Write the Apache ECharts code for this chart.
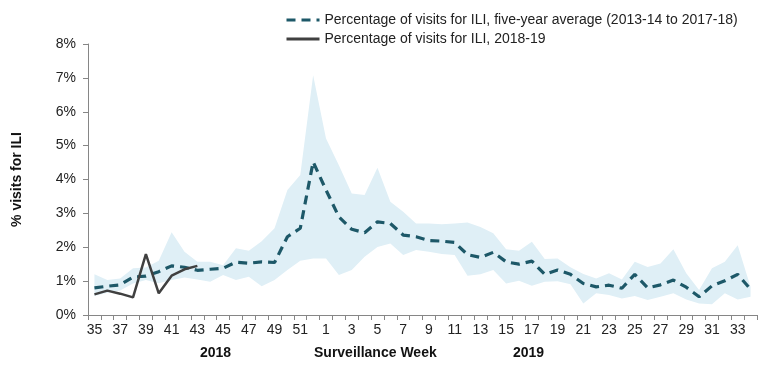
<!DOCTYPE html>
<html>
<head>
<meta charset="utf-8">
<script src="https://cdn.jsdelivr.net/npm/echarts@6/dist/echarts.min.js"></script>
<style>html,body{margin:0;padding:0;background:#fff}#c{width:777px;height:368px}</style>
</head>
<body>
<div id="c"></div>
<script>
const weeks = ['35','36','37','38','39','40','41','42','43','44','45','46','47','48','49','50','51','52',
  '1','2','3','4','5','6','7','8','9','10','11','12','13','14','15','16','17','18','19','20','21','22','23','24','25','26','27','28','29','30','31','32','33','34'];
const avg5yr = [0.80,0.85,0.89,1.12,1.15,1.28,1.45,1.41,1.32,1.35,1.38,1.56,1.53,1.57,1.55,2.31,2.56,4.52,
  3.69,2.90,2.53,2.43,2.75,2.70,2.36,2.31,2.20,2.18,2.14,1.78,1.70,1.85,1.57,1.50,1.59,1.20,1.33,1.20,0.93,0.83,0.88,0.79,1.20,0.80,0.89,1.03,0.82,0.54,0.86,1.01,1.20,0.76];
const season2018 = [0.61,0.72,0.63,0.52,1.80,0.64,1.16,1.35,1.45];
const bandLower = [0.56,0.66,0.72,0.93,1.03,0.94,1.03,1.11,1.05,0.98,1.18,1.03,1.13,0.85,1.03,1.33,1.60,1.67,
  1.67,1.18,1.33,1.72,2.01,2.11,1.77,1.92,1.87,1.80,1.77,1.16,1.20,1.33,0.93,1.01,0.86,0.98,1.00,0.91,0.34,0.64,0.59,0.49,0.56,0.44,0.54,0.64,0.46,0.34,0.32,0.64,0.46,0.54];
const bandUpper = [1.20,1.03,1.08,1.38,1.40,1.60,2.44,1.87,1.57,1.57,1.47,1.97,1.90,2.18,2.56,3.69,4.13,7.08,
  5.21,4.42,3.59,3.54,4.35,3.34,3.05,2.70,2.70,2.68,2.70,2.73,2.60,2.41,1.94,1.90,2.16,1.65,1.67,1.41,1.21,1.08,1.23,1.05,1.57,1.42,1.52,1.94,1.23,0.74,1.38,1.57,2.06,0.83];
const yTicks = [0,1,2,3,4,5,6,7,8];
const legendNames = ['Percentage of visits for ILI, five-year average (2013-14 to 2017-18)','Percentage of visits for ILI, 2018-19'];

const bandDiff = bandUpper.map((u,i)=>+(u-bandLower[i]).toFixed(3));
const FONT = '"Liberation Sans", Arial, sans-serif';
const chart = echarts.init(document.getElementById('c'));
chart.setOption({
  animation:false,
  textStyle:{fontFamily:FONT},
  grid:{left:88,right:20,top:44,bottom:53},
  legend:{
    data:legendNames, orient:'vertical', left:280, top:8, itemGap:5,
    itemWidth:33, itemHeight:10,
    itemStyle:{opacity:0},
    lineStyle:{width:3},
    textStyle:{fontFamily:FONT,fontSize:14,color:'#222'}
  },
  graphic:[
    {type:'text',left:200,top:346,style:{text:'2018',font:'bold 14px '+FONT,fill:'#111'}},
    {type:'text',left:314,top:346,style:{text:'Surveillance Week',font:'bold 14px '+FONT,fill:'#111'}},
    {type:'text',left:513,top:346,style:{text:'2019',font:'bold 14px '+FONT,fill:'#111'}}
  ],
  xAxis:{
    type:'category', data:weeks, boundaryGap:true,
    axisLine:{lineStyle:{color:'#868686'}},
    axisTick:{show:true,interval:0,length:5,lineStyle:{color:'#868686'}},
    axisLabel:{interval:1,color:'#222',fontSize:14,fontFamily:FONT,margin:8},
    splitLine:{show:false}
  },
  yAxis:{
    type:'value', min:0, max:8, interval:1,
    name:'% visits for ILI', nameLocation:'middle', nameGap:64,
    nameTextStyle:{fontWeight:'bold',fontSize:14,color:'#111',fontFamily:FONT},
    axisLine:{show:true,lineStyle:{color:'#868686'}},
    axisTick:{show:true,length:5,lineStyle:{color:'#868686'}},
    axisLabel:{color:'#222',fontSize:14,fontFamily:FONT,margin:12,
      formatter:v=>yTicks.includes(v)?v+'%':''},
    splitLine:{show:false}
  },
  series:[
    {name:'bandLow',type:'line',data:bandLower,stack:'band',symbol:'none',
      lineStyle:{opacity:0},areaStyle:{opacity:0},silent:true},
    {name:'bandHigh',type:'line',data:bandDiff,stack:'band',symbol:'none',
      lineStyle:{opacity:0},areaStyle:{color:'#dfeff6',opacity:1},silent:true},
    {name:legendNames[0],type:'line',data:avg5yr,symbol:'none',
      lineStyle:{color:'#1d5868',width:3.2,type:[9,6],cap:'butt'},itemStyle:{color:'#1d5868'}},
    {name:legendNames[1],type:'line',data:season2018,symbol:'none',
      lineStyle:{color:'#404040',width:2.5},itemStyle:{color:'#404040'}}
  ]
});
</script>
</body>
</html>
